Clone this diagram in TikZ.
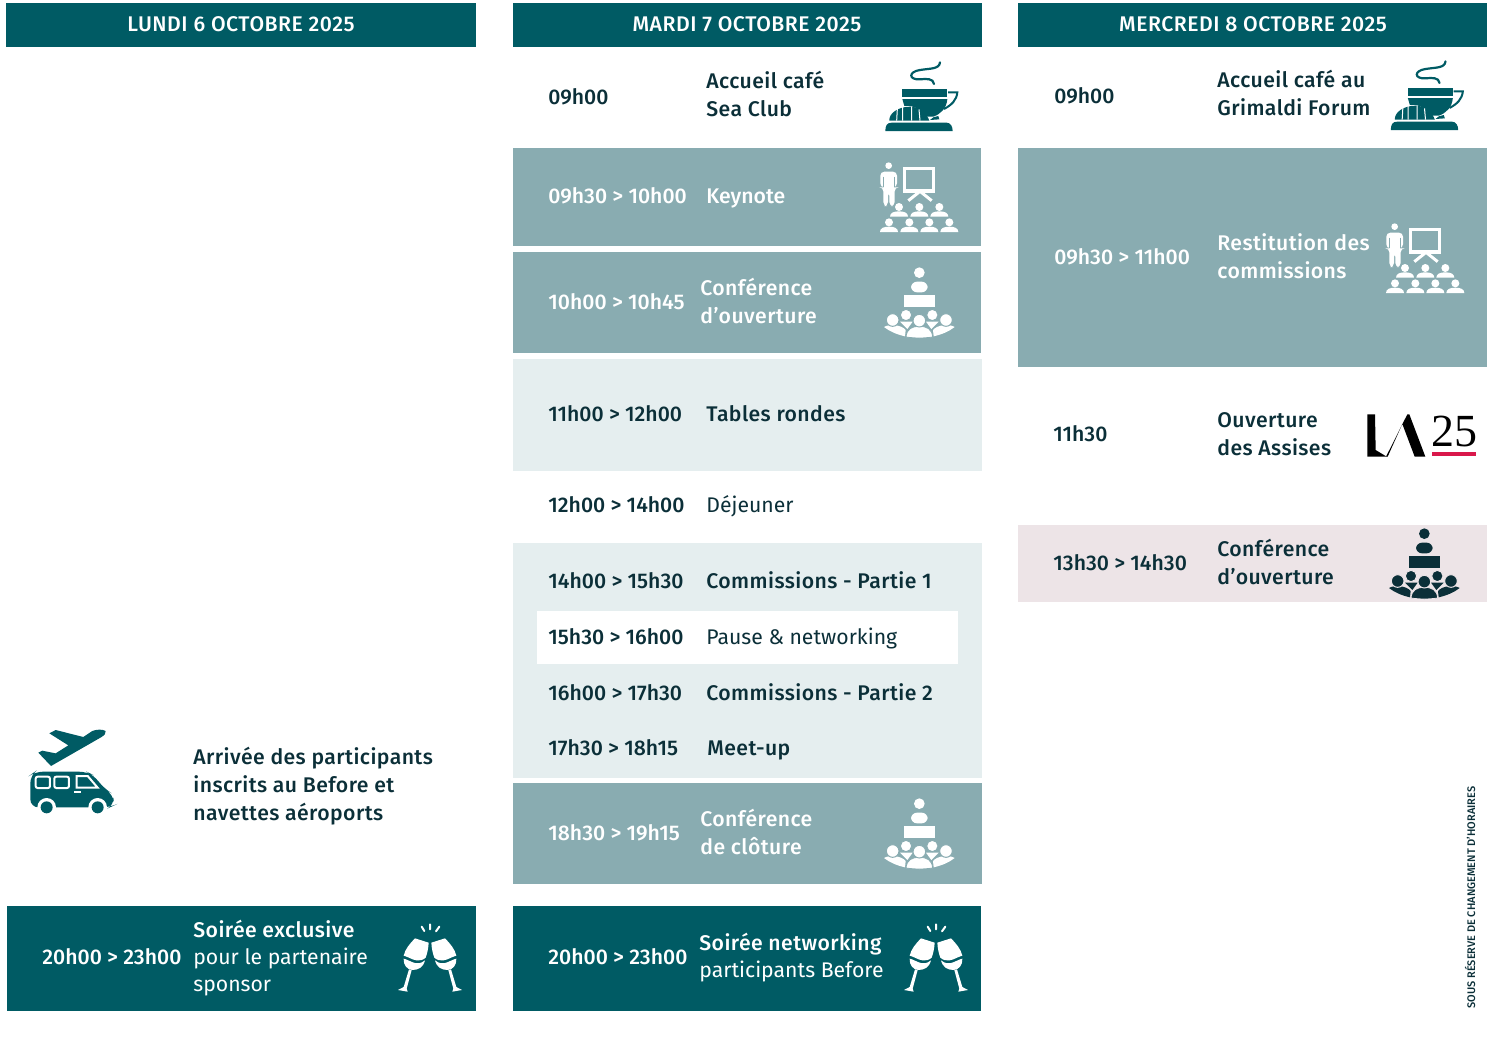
\documentclass[tikz,border=0pt]{standalone}
\usepackage{fontspec}
\usetikzlibrary{calc}
\setmainfont{Fira Sans}[BoldFont=* Medium]
\definecolor{tealdark}{HTML}{005B64}
\definecolor{tealmid}{HTML}{89ACB1}
\definecolor{teallight}{HTML}{E5EEEF}
\definecolor{rosepale}{HTML}{EDE4E7}
\definecolor{inkdark}{HTML}{0B2F38}
\definecolor{laflag}{HTML}{D9184B}
\tikzset{
	head/.style={text=white,font=\fontsize{10.6}{12}\selectfont\bfseries\addfontfeatures{LetterSpace=2.4},inner sep=0pt},
	tim/.style={anchor=base west,yshift=-3.5pt,inner sep=0pt,text=inkdark,font=\fontsize{10.6}{12}\selectfont\bfseries},
	lab/.style={tim,font=\fontsize{10.6}{12}\selectfont\bfseries\addfontfeatures{LetterSpace=2}},
	reg/.style={tim,font=\fontsize{10.6}{12}\selectfont},
	wtim/.style={tim,text=white},
	wlab/.style={lab,text=white},
	wreg/.style={reg,text=white},
}
% icons: coordinates in units of a third of a pixel from the given corner
\newcommand{\coffeeicon}[3]{
	\begin{scope}[shift={(#1,#2)},scale=1/3]
		\draw[#3,line width=1.1pt,line cap=round] (210,37) .. controls (208,58) and (180,55) .. (150,60) .. controls (115,65) and (115,90) .. (150,88) .. controls (170,86) and (190,85) .. (192,102);
		\fill[#3] (97,118) -- (232,118) -- (232,140) -- (97,140) -- cycle;
		\fill[#3] (97,147) -- (232,147) .. controls (230,175) and (212,192) .. (190,200) -- (170,200) .. controls (150,172) and (120,165) .. (103,168) -- cycle;
		\draw[#3,line width=1pt] (234,127) -- (262,127) .. controls (260,150) and (245,165) .. (222,177);
		\fill[#3] (58,212) .. controls (56,190) and (85,170) .. (120,170) .. controls (150,170) and (170,190) .. (178,212) -- cycle;
		\draw[white,line width=.5pt] (80,212) -- (82,177) (98,212) -- (98,171) (125,212) -- (125,170) (150,212) -- (147,178);
		\fill[#3] (180,210) -- (208,208) -- (205,198) -- (190,202) -- cycle;
		\fill[#3] (46,243) .. controls (46,228) and (50,218) .. (65,218) -- (230,218) .. controls (242,218) and (248,230) .. (248,243) -- cycle;
	\end{scope}
}
\newcommand{\seat}[3]{
	\fill[#3] (#1,#2) circle (12);
	\fill[#3] ($(#1,#2)+(-27,29)$) .. controls ($(#1,#2)+(-27,17)$) and ($(#1,#2)+(-15,13)$) .. ($(#1,#2)+(0,13)$) .. controls ($(#1,#2)+(15,13)$) and ($(#1,#2)+(27,17)$) .. ($(#1,#2)+(27,29)$) -- cycle;
}
\newcommand{\talkicon}[4]{
	\begin{scope}[shift={(#1,#2)},scale=1/3]
		\fill[#3] (56,347) circle (10);
		\fill[#3,rounded corners=2pt] (31,412) -- (31,365) -- (81,365) -- (81,412) -- (74,412) -- (74,468) -- (58,468) -- (58,425) -- (54,425) -- (54,468) -- (40,468) -- (40,412) -- cycle;
		\draw[#4,line width=.4pt] (39,380) -- (39,412) (74,380) -- (74,412);
		\draw[#3,line width=1.6pt] (104,355) rectangle (190,423);
		\draw[#3,line width=1.5pt] (150,424) -- (115,452) (150,424) -- (185,452);
		\seat{87}{471}{#3} \seat{148}{471}{#3} \seat{208}{471}{#3}
		\seat{57}{517}{#3} \seat{118}{517}{#3} \seat{178}{517}{#3} \seat{238}{517}{#3}
	\end{scope}
}
\newcommand{\crowdhead}[5]{
	\filldraw[#4,draw=#5,line width=.5pt] (#1,#2) circle (#3);
}
\newcommand{\hallicon}[4]{
	\begin{scope}[shift={(#1,#2)},scale=1/3]
		\fill[#3] (148,53) circle (16);
		\fill[#3,rounded corners=3pt] (123,112) -- (123,80) -- (173,80) -- (173,112) -- cycle;
		\fill[#3] (101,120) rectangle (195,156);
		\fill[#3] (90,200) -- (128,200) -- (112,222) -- cycle;
		\fill[#3] (168,200) -- (206,200) -- (184,222) -- cycle;
		\fill[#3] (42,216) .. controls (60,230) and (80,238) .. (105,244) -- (107,225) .. controls (95,210) and (60,205) .. (42,216) -- cycle;
		\fill[#3] (254,216) .. controls (236,230) and (216,238) .. (191,244) -- (189,225) .. controls (201,210) and (236,205) .. (254,216) -- cycle;
		\crowdhead{108}{180}{17}{#3}{#4} \crowdhead{187}{180}{17}{#3}{#4}
		\crowdhead{68}{195}{19}{#3}{#4} \crowdhead{228}{195}{19}{#3}{#4}
		\fill[#3,draw=#4,line width=.4pt] (108,246) .. controls (110,222) and (125,214) .. (148,214) .. controls (171,214) and (186,222) .. (188,246) .. controls (160,250) and (136,250) .. (108,246) -- cycle;
		\crowdhead{148}{197}{19}{#3}{#4}
	\end{scope}
}
\newcommand{\glassicon}[3]{
	\begin{scope}[shift={(#1,#2)},scale=1/3]
		\foreach \flip/\mid in {1/0,-1/270}{
			\begin{scope}[shift={(\mid,0)},xscale=\flip]
				\fill[#3] (90,85) -- (131,98) .. controls (130,115) and (127,130) .. (122,143) .. controls (105,158) and (85,150) .. (72,143) .. controls (65,140) and (60,138) .. (56,137) .. controls (60,118) and (75,100) .. (90,85) -- cycle;
				\fill[#3] (56,146) .. controls (75,150) and (95,172) .. (120,151) .. controls (115,172) and (100,180) .. (82,180) .. controls (65,178) and (55,165) .. (56,146) -- cycle;
				\fill[#3] (72,178) -- (80,180) -- (65,236) -- (68,245) -- (39,240) -- (56,231) -- cycle;
			\end{scope}
		}
		\draw[#3,line width=1pt,line cap=round] (110,50) -- (118,63) (135,43) -- (135,58) (163,50) -- (153,64);
	\end{scope}
}
\begin{document}
\begin{tikzpicture}[x=0.5pt,y=-0.5pt]
\useasboundingbox (0,0) rectangle (1500,1050);
% bands
\fill[tealdark] (6,3) rectangle (476,47);
\fill[tealdark] (513,3) rectangle (982,47);
\fill[tealdark] (1018,3) rectangle (1487,47);
\fill[tealmid] (513,148) rectangle (981,246);
\fill[tealmid] (513,252) rectangle (981,353);
\fill[teallight] (513,359) rectangle (982,471);
\fill[teallight] (513,543) rectangle (982,778);
\fill[white] (537,611) rectangle (958,664);
\fill[tealmid] (513,783) rectangle (982,884);
\fill[tealdark] (513,906) rectangle (981,1011);
\fill[tealdark] (7,906) rectangle (476,1011);
\fill[tealmid] (1018,148) rectangle (1487,367);
\fill[rosepale] (1018,525) rectangle (1487,602);
% headers
\node[head] (lundi) at (241,24) {LUNDI 6 OCTOBRE 2025};
\node[head] (mardi) at (747,24) {MARDI 7 OCTOBRE 2025};
\node[head] (mercredi) at (1253,24) {MERCREDI 8 OCTOBRE 2025};
% lundi
\node[lab] (arrive) at (193,757) {Arrivée des participants};
\node[lab] (arriveb) at (193,785) {inscrits au Before et};
\node[lab] (arrivec) at (193,813) {navettes aéroports};
\node[wtim] (soirtime) at (42,957) {20h00 > 23h00};
\node[wlab] (soira) at (193,930) {Soirée exclusive};
\node[wreg] (soirb) at (193,957) {pour le partenaire};
\node[wreg] (soirc) at (193,984) {sponsor};
% mardi
\node[tim] (mara) at (548,97) {09h00};
\node[lab] (marab) at (706,81) {Accueil café};
\node[lab] (marac) at (706,109) {Sea Club};
\node[wtim] (marb) at (548,196) {09h30 > 10h00};
\node[wtim] (marbb) at (706,196) {Keynote};
\node[wtim] (marc) at (548,302) {10h00 > 10h45};
\node[wlab] (marcb) at (700,288) {Conférence};
\node[wlab] (marcc) at (700,316) {d’ouverture};
\node[tim] (mard) at (548,414) {11h00 > 12h00};
\node[lab] (mardb) at (706,414) {Tables rondes};
\node[tim] (mare) at (548,505) {12h00 > 14h00};
\node[reg] (mareb) at (706,505) {Déjeuner};
\node[tim] (marf) at (548,581) {14h00 > 15h30};
\node[lab] (marfb) at (706,581) {Commissions - Partie 1};
\node[tim] (marg) at (548,637) {15h30 > 16h00};
\node[reg] (margb) at (706,637) {Pause \& networking};
\node[tim] (marh) at (548,693) {16h00 > 17h30};
\node[lab] (marhb) at (706,693) {Commissions - Partie 2};
\node[tim] (mari) at (548,748) {17h30 > 18h15};
\node[lab] (marib) at (707,748) {Meet-up};
\node[wtim] (marj) at (548,833) {18h30 > 19h15};
\node[wlab] (marjb) at (700,819) {Conférence};
\node[wlab] (marjc) at (700,847) {de clôture};
\node[wtim] (mark) at (548,957) {20h00 > 23h00};
\node[wlab] (markb) at (699,943) {Soirée networking};
\node[wreg] (markc) at (699,970) {participants Before};
% mercredi
\node[tim] (mera) at (1054,96) {09h00};
\node[lab] (merab) at (1217,80) {Accueil café au};
\node[lab] (merac) at (1217,108) {Grimaldi Forum};
\node[wtim] (merb) at (1054,257) {09h30 > 11h00};
\node[wlab] (merbb) at (1217,243) {Restitution des};
\node[wlab] (merbc) at (1217,271) {commissions};
\node[tim] (merc) at (1053,434) {11h30};
\node[lab] (mercb) at (1217,420) {Ouverture};
\node[lab] (mercc) at (1217,448) {des Assises};
\node[tim] (merd) at (1053,563) {13h30 > 14h30};
\node[lab] (merdb) at (1217,549) {Conférence};
\node[lab] (merdc) at (1217,577) {d’ouverture};
\node[rotate=90,inner sep=0pt,text=inkdark,font=\fontsize{5.5}{6}\selectfont\bfseries] (reserve) at (1470,897.5) {SOUS RÉSERVE DE CHANGEMENT D’HORAIRES};
% icons
\coffeeicon{870}{50}{tealdark}
\coffeeicon{1375.5}{49}{tealdark}
\talkicon{870}{50}{white}{tealmid}
\talkicon{1376}{111}{white}{tealmid}
\hallicon{870}{255}{white}{tealmid}
\hallicon{870}{786}{white}{tealmid}
\hallicon{1375}{516}{inkdark}{rosepale}
\glassicon{385}{910}{white}
\glassicon{891}{910}{white}
% plane and van
\begin{scope}[shift={(15,720)},scale=1/3]
	\fill[tealdark] (272,33) .. controls (262,27) and (245,28) .. (232,33) -- (205,51) -- (122,30) -- (103,40) -- (160,76) -- (122,100) -- (82,92) -- (70,98) -- (108,138) -- (258,52) .. controls (268,46) and (274,40) .. (272,33) -- cycle;
	\fill[tealdark,rounded corners=4pt] (46,262) -- (46,165) -- (60,155) -- (215,155) -- (235,165) -- (270,208) -- (294,222) -- (298,256) -- (285,262) -- cycle;
	\draw[white,line width=1pt,rounded corners=1pt] (62,170) rectangle (105,204);
	\draw[white,line width=1pt,rounded corners=1pt] (118,170) rectangle (162,204);
	\draw[white,line width=1pt] (185,168) -- (218,168) -- (248,203) -- (185,203) -- cycle;
	\fill[white] (178,212) rectangle (198,218);
	\fill[white] (95,262) circle (28);
	\fill[white] (248,262) circle (28);
	\fill[tealdark] (95,262) circle (18);
	\fill[tealdark] (248,262) circle (18);
\end{scope}
% logo
\begin{scope}[shift={(1350,400)},scale=1/3]
	\fill[black] (52,43) -- (75,43) -- (77,150) -- (110,170) -- (52,170) -- cycle;
	\fill[black] (108,170) -- (172,43) -- (178,43) -- (226,170) -- (194,170) -- (157,72) -- (113,170) -- cycle;
	\fill[laflag] (246,157) rectangle (378,168);
\end{scope}
\node[inner sep=0pt,font=\fontspec{Liberation Serif}\fontsize{23}{26}\selectfont] (annee) at (1454,431) {25};
\end{tikzpicture}
\end{document}
